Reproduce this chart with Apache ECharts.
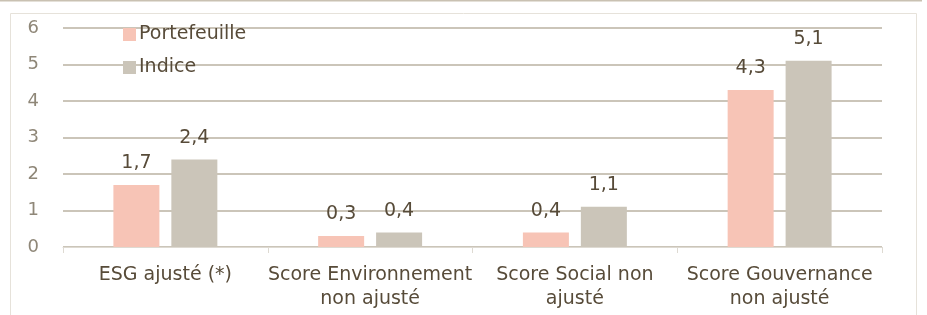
<!DOCTYPE html>
<html>
<head>
<meta charset="utf-8">
<script src="https://cdn.jsdelivr.net/npm/echarts@6/dist/echarts.min.js"></script>
<style>
  html, body { margin: 0; padding: 0; background: #fff; }
  #main { width: 927px; height: 315px; }
</style>
</head>
<body>
<div id="main"></div>
<script>
var categories = ['ESG ajusté (*)', 'Score Environnement\nnon ajusté', 'Score Social non\najusté', 'Score Gouvernance\nnon ajusté'];
var portefeuille = [1.7, 0.3, 0.4, 4.3];
var indice = [2.4, 0.4, 1.1, 5.1];

var chart = echarts.init(document.getElementById('main'));
var txt = '#574b39';
var fmt = function (p) { return String(p.value).replace('.', ','); };

chart.setOption({
    animation: false,
    textStyle: { fontFamily: 'DejaVu Sans' },
    graphic: [
        { type: 'line', shape: { x1: 0, y1: 0.5, x2: 922, y2: 0.5 }, style: { stroke: '#c9c1b2', lineWidth: 2 } },
        { type: 'polyline', shape: { points: [[10.5, 315], [10.5, 13.5], [916.5, 13.5], [916.5, 315]] }, style: { stroke: '#e6e2da', lineWidth: 1, fill: null } }
    ],
    legend: {
        orient: 'vertical',
        left: 118,
        top: 20,
        itemWidth: 13,
        itemHeight: 13,
        itemGap: 14,
        icon: 'rect',
        textStyle: { color: txt, fontSize: 19, padding: [0, 0, 0, -2] },
        data: ['Portefeuille', 'Indice']
    },
    grid: { left: 63, right: 45, top: 28, bottom: 68 },
    xAxis: {
        type: 'category',
        data: categories,
        axisLine: { lineStyle: { color: '#dedad2', width: 1 } },
        axisTick: { show: true, length: 6, lineStyle: { color: '#dedad2' } },
        axisLabel: { color: txt, fontSize: 19, lineHeight: 24, margin: 16, interval: 0 }
    },
    yAxis: {
        type: 'value',
        min: 0,
        max: 6,
        interval: 1,
        axisLine: { show: false },
        axisTick: { show: false },
        axisLabel: { color: '#8f8778', fontSize: 18, margin: 24 },
        splitLine: { lineStyle: { color: '#cbc5b9', width: 2 } }
    },
    series: [
        {
            name: 'Portefeuille',
            type: 'bar',
            data: portefeuille,
            barWidth: 46,
            barGap: '26%',
            itemStyle: { color: '#f7c4b6' },
            label: { show: true, position: 'top', distance: 12, color: txt, fontSize: 19, formatter: fmt }
        },
        {
            name: 'Indice',
            type: 'bar',
            data: indice,
            barWidth: 46,
            itemStyle: { color: '#cbc5b9' },
            label: { show: true, position: 'top', distance: 12, color: txt, fontSize: 19, formatter: fmt }
        }
    ]
});
</script>
</body>
</html>
